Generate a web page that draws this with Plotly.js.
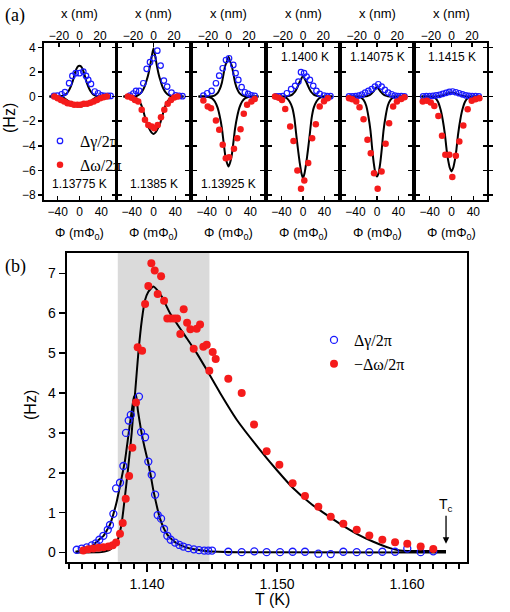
<!DOCTYPE html>
<html><head><meta charset="utf-8">
<script src="https://cdn.plot.ly/plotly-3.0.1.min.js"></script>
<style>html,body{margin:0;padding:0;background:#fff}#chart{width:510px;height:612px}</style>
</head><body><div id="chart"></div>
<script>
// ---------- Panel (a) data: six flux scans ----------
const tempLabels = ['1.13775 K','1.1385 K','1.13925 K','1.1400 K','1.14075 K','1.1415 K'];

const gPhi1 = [-46.7,-40.6,-32.6,-26.6,-19,-13,-7,0,7,12,16,21,28,34,40,46,52,57];
const gVal1 = [0.05,0.08,0.19,0.36,1.09,1.68,1.9,1.9,2.03,1.68,1.35,1.03,0.41,0.27,0.1,0.05,0.05,0.05];
const wPhi1 = [-46,-40,-34,-28,-22,-16,-10,-4,2,8,14,20,26,32,38,44,50];
const wVal1 = [0,-0.13,-0.27,-0.4,-0.54,-0.59,-0.67,-0.67,-0.67,-0.59,-0.59,-0.5,-0.4,-0.27,-0.13,-0.05,0];

const gPhi2 = [-43,-37,-32,-26,-18.7,-12.5,-6.4,0,7,13,19,25,33,40.5,47,53];
const gVal2 = [0.08,0.25,0.46,0.46,1.08,2.25,2.79,3.11,3.73,2.52,1.3,0.81,0.32,0.1,0.05,0.03];
const wPhi2 = [-47,-40,-34,-28,-21.6,-15.6,-9.5,-3.3,1.5,7.7,13.7,19.8,26,32,38,44];
const wVal2 = [0,-0.1,-0.27,-0.4,-1.08,-1.89,-2.3,-2.43,-2.57,-2.3,-1.67,-1.08,-0.59,-0.27,-0.08,0];

const gPhi3 = [-46,-39,-31,-23,-17,-10.6,-4.6,1,8.8,13,18,24,30,36,42,48];
const gVal3 = [0.08,0.27,0.46,1.08,1.7,2.3,2.97,3.11,2.57,1.9,1.35,0.76,0.35,0.22,0.1,0.05];
const wPhi3 = [-46,-38,-32,-23,-17,-10.6,-5,1,10,16,22,28,34,42,48];
const wVal3 = [-0.32,-0.81,-0.94,-1.95,-2.7,-3.92,-5.0,-4.92,-4.24,-3.38,-2.65,-1.4,-0.67,-0.4,-0.2];

const gPhi4 = [-50,-44,-38,-30,-22,-14.6,-8.5,-3.7,2,6.7,12.8,19,25,31,39,45,51];
const gVal4 = [0.02,0.02,0.03,0.27,0.6,0.87,1.22,1.98,1.9,1.62,1.35,0.87,0.46,0.22,0.08,0.03,0.03];
const wPhi4 = [-52,-45,-39,-33,-23.8,-17.7,-10.4,-3.7,2.4,9.7,17,23.8,31,39,46];
const wVal4 = [0,-0.1,-0.27,-1.0,-2.43,-3.6,-6.0,-7.49,-6.81,-5.4,-3.38,-2.24,-0.81,-0.38,-0.14];

const gPhi5 = [-52,-46,-40,-34,-28,-22,-16,-9.7,-3.7,2.4,8.6,14.6,20.7,27,33,39,45,51];
const gVal5 = [0.02,0.02,0.03,0.08,0.15,0.32,0.46,0.6,0.81,1.0,0.81,0.54,0.32,0.19,0.08,0.04,0.03,0.02];
const wPhi5 = [-52,-46,-38.5,-32.4,-25,-17.7,-11.6,-5.5,1.2,8.5,16,22.5,30,37,45,51];
const wVal5 = [-0.13,-0.22,-0.4,-0.86,-1.84,-3.51,-4.6,-6.22,-7.49,-6.08,-3.84,-2.16,-0.81,-0.4,-0.2,-0.05];

const gPhi6 = [-52,-46,-40,-34,-28,-22,-16,-10,-4,2,8,14,20,26,32,38,44,50];
const gVal6 = [0.02,0.03,0.04,0.06,0.1,0.14,0.22,0.3,0.38,0.41,0.35,0.27,0.18,0.1,0.06,0.04,0.03,0.02];
const wPhi6 = [-52.7,-45,-38,-31.5,-24,-17.4,-11.3,-4,1.5,8,14.3,21.6,29.6,37,44,51];
const wVal6 = [-0.4,-0.35,-0.49,-0.76,-1.57,-3.19,-4.73,-4.73,-6.54,-4.81,-3.65,-2.35,-1.03,-0.35,-0.22,-0.13];

// fit curves
const fitPhi = [-55,-45,-35,-30,-25,-20,-16,-12,-9,-6,-3,0,3,6,9,12,16,20,25,30,35,45,55];
const fitG1 = [0,0,0.02,0.07,0.18,0.45,0.8,1.3,1.8,2.2,2.45,2.51,2.45,2.2,1.8,1.3,0.8,0.45,0.18,0.07,0.02,0,0];
const fitW1 = [0,0,-0.04,-0.1,-0.22,-0.38,-0.52,-0.64,-0.72,-0.77,-0.8,-0.81,-0.8,-0.77,-0.72,-0.64,-0.52,-0.38,-0.22,-0.1,-0.04,0,0];
const fitG2 = [0,0,0.02,0.07,0.2,0.48,0.85,1.4,1.9,2.55,3.3,3.92,3.3,2.55,1.9,1.4,0.85,0.48,0.2,0.07,0.02,0,0];
const fitW2 = [0,0,-0.06,-0.18,-0.45,-0.95,-1.6,-2.2,-2.5,-2.75,-2.95,-3.03,-2.95,-2.75,-2.5,-2.2,-1.6,-0.95,-0.45,-0.18,-0.06,0,0];
const fitG3 = [0,0,0.01,0.03,0.1,0.28,0.6,1.15,1.85,2.5,2.85,3.24,2.85,2.5,1.85,1.15,0.6,0.28,0.1,0.03,0.01,0,0];
const fitW3 = [0,0,-0.05,-0.15,-0.4,-0.9,-1.6,-2.6,-3.7,-4.75,-5.35,-5.68,-5.35,-4.75,-3.7,-2.6,-1.6,-0.9,-0.4,-0.15,-0.05,0,0];
const fitG4 = [0,0,0,0.02,0.06,0.16,0.33,0.62,0.9,1.2,1.45,1.7,1.45,1.2,0.9,0.62,0.33,0.16,0.06,0.02,0,0,0];
const fitW4 = [0,0,-0.03,-0.14,-0.4,-0.9,-1.75,-3.3,-4.4,-5.4,-6.2,-6.62,-6.2,-5.4,-4.4,-3.3,-1.75,-0.9,-0.4,-0.14,-0.03,0,0];
const fitG5 = [0,0,0,0,0.01,0.03,0.08,0.17,0.3,0.45,0.62,0.81,0.62,0.45,0.3,0.17,0.08,0.03,0.01,0,0,0,0];
const fitW5 = [0,0,-0.02,-0.07,-0.27,-0.75,-1.6,-2.8,-4.2,-5.4,-6.2,-6.49,-6.2,-5.4,-4.2,-2.8,-1.6,-0.75,-0.27,-0.07,-0.02,0,0];
const fitG6 = [0,0,0,0.01,0.03,0.06,0.1,0.17,0.22,0.28,0.31,0.32,0.31,0.28,0.22,0.17,0.1,0.06,0.03,0.01,0,0,0];
const fitW6 = [0,0,-0.03,-0.12,-0.4,-1.05,-1.9,-3.1,-4.3,-5.2,-5.8,-6.08,-5.8,-5.2,-4.3,-3.1,-1.9,-1.05,-0.4,-0.12,-0.03,0,0];

// ---------- Panel (b) data: temperature dependence ----------
const tGamma = [1.13459,1.13498,1.13536,1.13575,1.13605,1.13633,1.13664,1.13698,1.13715,1.13741,1.13762,1.13792,1.13818,1.13838,1.13859,1.13875,1.13938,1.13954,1.13985,1.1401,1.14036,1.14062,1.14082,1.14108,1.14131,1.14156,1.14182,1.14215,1.14249,1.14279,1.14318,1.1436,1.1440,1.1444,1.1447,1.1450,1.14625,1.14728,1.14825,1.1492,1.15023,1.1512,1.15215,1.15318,1.15413,1.1551,1.15613,1.1571,1.1581,1.15908,1.16002,1.16105,1.16202];
const vGamma = [0.07,0.10,0.13,0.18,0.23,0.32,0.42,0.57,0.69,0.97,1.61,1.75,2.17,3.0,3.31,3.45,3.91,3.02,2.89,2.28,1.95,1.45,0.94,0.85,0.59,0.42,0.32,0.25,0.19,0.15,0.11,0.08,0.06,0.05,0.05,0.05,0.02,0.01,0.03,0.01,0.01,0.02,0.02,-0.03,-0.04,0.02,0.01,0.01,0.02,0.02,0.10,0.01,0.03];
const tOmega = [1.1351,1.13548,1.13587,1.13626,1.13664,1.13703,1.13736,1.13762,1.13792,1.13813,1.13836,1.13862,1.13887,1.13915,1.13928,1.13962,1.13985,1.1401,1.14033,1.14059,1.14082,1.14108,1.14131,1.14156,1.14182,1.14208,1.14231,1.14256,1.14282,1.14308,1.14333,1.14359,1.14382,1.14408,1.14433,1.14459,1.14479,1.14505,1.14528,1.14625,1.14728,1.14823,1.1492,1.15018,1.1512,1.15215,1.15318,1.15413,1.1551,1.15613,1.1571,1.1581,1.15908,1.16002,1.16105,1.16202];
const vOmega = [0.05,0.08,0.10,0.12,0.13,0.15,0.18,0.25,0.47,0.74,1.35,1.92,2.63,3.76,5.15,5.06,6.23,6.68,7.25,7.07,6.48,6.93,6.31,5.87,5.87,5.87,5.87,5.48,6.1,5.76,5.6,5.11,5.61,5.72,5.16,5.21,4.56,5.03,4.85,4.36,4.0,3.21,2.54,2.2,1.74,1.42,1.15,0.9,0.72,0.57,0.43,0.32,0.26,0.22,0.15,0.09];

const tFitG = [1.1345,1.1352,1.1358,1.1363,1.13665,1.1369,1.13715,1.1374,1.13767,1.1380,1.1383,1.13855,1.1388,1.1390,1.13915,1.1393,1.13955,1.1398,1.1401,1.1403,1.14048,1.1408,1.1410,1.1413,1.1416,1.1420,1.1423,1.1430,1.1436,1.1445,1.1455,1.1470,1.1630];
const vFitG = [0.02,0.08,0.17,0.32,0.42,0.55,0.7,0.95,1.28,1.8,2.3,2.9,3.5,3.9,3.95,3.55,3.05,2.65,2.24,1.9,1.57,1.1,0.85,0.6,0.43,0.3,0.23,0.13,0.08,0.04,0.02,0.005,0];
const tFitW = [1.1345,1.1365,1.1370,1.13715,1.13754,1.13779,1.13805,1.1383,1.13856,1.13882,1.1390,1.13908,1.13933,1.1396,1.13985,1.1401,1.14048,1.14079,1.14113,1.14177,1.14279,1.14382,1.14459,1.14562,1.1469,1.1487,1.14998,1.15125,1.15254,1.15356,1.15485,1.15613,1.15741,1.15869,1.15946,1.1600,1.1630];
const vFitW = [0.0,0.01,0.05,0.07,0.19,0.36,0.74,1.4,2.16,3.0,3.74,4.0,5.0,5.83,6.33,6.54,6.67,6.58,6.42,6.0,5.5,5.0,4.58,4.0,3.33,2.57,2.07,1.61,1.24,1.0,0.72,0.47,0.27,0.11,0.05,0.04,0.04];

const shadeT = [1.13775, 1.1448];
const tcValue = 1.163;

// ---------- helpers ----------
const W = 510, H = 612;
const px = v => v / W;
const py = v => 1 - v / H;
const ax = n => (n === 1 ? '' : String(n));
const BLUE = '#1a1aff', RED = '#f51b1b';

const gPhis = [gPhi1,gPhi2,gPhi3,gPhi4,gPhi5,gPhi6];
const gVals = [gVal1,gVal2,gVal3,gVal4,gVal5,gVal6];
const wPhis = [wPhi1,wPhi2,wPhi3,wPhi4,wPhi5,wPhi6];
const wVals = [wVal1,wVal2,wVal3,wVal4,wVal5,wVal6];
const fitGs = [fitG1,fitG2,fitG3,fitG4,fitG5,fitG6];
const fitWs = [fitW1,fitW2,fitW3,fitW4,fitW5,fitW6];

const subLeft = [44,118,193,268,342,416];
const subRight = [115,189,264,338,412,487];
const aTop = 43, aBot = 200;
const bLeft = 66.7, bRight = 466.7, bTop = 253, bBot = 561.7;

const traces = [];
const layout = {
  width: W, height: H,
  margin: {l:0, r:0, t:0, b:0},
  paper_bgcolor: '#fff', plot_bgcolor: 'rgba(0,0,0,0)',
  font: {family: 'Liberation Sans, Arial, sans-serif', size: 12, color: '#000'},
  showlegend: true,
  annotations: [], shapes: []
};

for (let k = 0; k < 6; k++) {
  const n = k + 1;
  const xa = 'x' + ax(n), ya = 'y' + ax(n);
  layout['xaxis' + ax(n)] = {
    domain: [px(subLeft[k]), px(subRight[k])], range: [-65, 65], anchor: ya,
    tickvals: [-40, 0, 40], ticks: 'inside', ticklen: 4, tickwidth: 1.5, tickcolor: '#000',
    showline: true, mirror: true, linewidth: 2, linecolor: '#000',
    showgrid: false, zeroline: false, tickfont: {size: 12}
  };
  layout['yaxis' + ax(n)] = {
    domain: [py(aBot), py(aTop)], range: [-8.4, 4.35], anchor: xa,
    tickvals: [-8,-6,-4,-2,0,2,4], ticks: k === 0 ? 'outside' : 'inside', ticklen: 4, tickwidth: 1.5, tickcolor: '#000',
    showline: true, mirror: 'allticks', linewidth: 2, linecolor: '#000',
    showticklabels: k === 0, showgrid: false, zeroline: false, tickfont: {size: 12}
  };
  layout['xaxis' + (n + 6)] = {
    overlaying: xa, side: 'top', anchor: ya, range: [-34.6, 34.6],
    tickvals: [-20, 0, 20], ticks: 'inside', ticklen: 4, tickwidth: 1.5, tickcolor: '#000',
    showline: false, showgrid: false, zeroline: false, tickfont: {size: 12}
  };
  traces.push({x: fitPhi, y: fitGs[k], xaxis: xa, yaxis: ya, mode: 'lines',
    line: {color: '#000', width: 2, shape: 'spline', smoothing: 0.6}, showlegend: false, hoverinfo: 'skip'});
  traces.push({x: fitPhi, y: fitWs[k], xaxis: xa, yaxis: ya, mode: 'lines',
    line: {color: '#000', width: 2, shape: 'spline', smoothing: 0.6}, showlegend: false, hoverinfo: 'skip'});
  traces.push({x: gPhis[k], y: gVals[k], xaxis: xa, yaxis: ya, mode: 'markers', name: 'Δγ/2π',
    marker: {symbol: 'circle-open', size: 5.5, color: BLUE, line: {width: 1.2, color: BLUE}},
    showlegend: k === 0, legend: 'legend'});
  traces.push({x: wPhis[k], y: wVals[k], xaxis: xa, yaxis: ya, mode: 'markers', name: 'Δω/2π',
    marker: {symbol: 'circle', size: 6.5, color: RED},
    showlegend: k === 0, legend: 'legend'});
  // an empty trace so the top (nm) axis has a subplot
  traces.push({x: [], y: [], xaxis: 'x' + (n + 6), yaxis: ya, mode: 'markers', showlegend: false, hoverinfo: 'skip'});

  const cx = px((subLeft[k] + subRight[k]) / 2);
  layout.annotations.push({xref: 'paper', yref: 'paper', x: cx, y: py(13), text: 'x (nm)', showarrow: false,
    font: {size: 13}, xanchor: 'center', yanchor: 'middle'});
  layout.annotations.push({xref: 'paper', yref: 'paper', x: cx, y: py(233), text: 'Φ (mΦ<sub>0</sub>)', showarrow: false,
    font: {size: 13}, xanchor: 'center', yanchor: 'middle'});
  layout.annotations.push({xref: xa, yref: ya, x: k === 3 ? 3 : 0, y: k < 3 ? -7.1 : 3.2, text: tempLabels[k], showarrow: false,
    font: {size: 12}, xanchor: 'center', yanchor: 'middle'});
}

// Panel (b)
layout.xaxis13 = {
  domain: [px(bLeft), px(bRight)], range: [1.13382, 1.16459], anchor: 'y13',
  tick0: 1.14, dtick: 0.01, tickformat: '.3f', ticks: 'outside', ticklen: 8, tickwidth: 1.5, tickcolor: '#000',
  minor: {tick0: 1.14, dtick: 0.001, ticks: 'outside', ticklen: 5, tickwidth: 1.5, tickcolor: '#000', showgrid: false},
  showline: true, mirror: true, linewidth: 2, linecolor: '#000', showgrid: false, zeroline: false,
  tickfont: {size: 14}
};
layout.yaxis13 = {
  domain: [py(bBot), py(bTop)], range: [-0.23, 7.51], anchor: 'x13',
  tick0: 0, dtick: 1, ticks: 'outside', ticklen: 6, tickwidth: 1.5, tickcolor: '#000',
  showline: true, mirror: true, linewidth: 2, linecolor: '#000', showgrid: false, zeroline: false,
  tickfont: {size: 14}
};
layout.shapes.push({type: 'rect', xref: 'x13', yref: 'y13 domain', x0: shadeT[0], x1: shadeT[1], y0: 0, y1: 1,
  fillcolor: '#dadada', line: {width: 0}, layer: 'below'});

traces.push({x: tFitG, y: vFitG, xaxis: 'x13', yaxis: 'y13', mode: 'lines',
  line: {color: '#000', width: 2, shape: 'spline', smoothing: 0.5}, showlegend: false, hoverinfo: 'skip'});
traces.push({x: tFitW, y: vFitW, xaxis: 'x13', yaxis: 'y13', mode: 'lines',
  line: {color: '#000', width: 2, shape: 'spline', smoothing: 0.5}, showlegend: false, hoverinfo: 'skip'});
traces.push({x: tGamma, y: vGamma, xaxis: 'x13', yaxis: 'y13', mode: 'markers', name: 'Δγ/2π',
  marker: {symbol: 'circle-open', size: 7, color: BLUE, line: {width: 1.3, color: BLUE}}, legend: 'legend2'});
traces.push({x: tOmega, y: vOmega, xaxis: 'x13', yaxis: 'y13', mode: 'markers', name: '−Δω/2π',
  marker: {symbol: 'circle', size: 8, color: RED}, legend: 'legend2'});

layout.legend = {x: px(40), y: py(124), xanchor: 'left', yanchor: 'top', bgcolor: 'rgba(0,0,0,0)',
  font: {family: 'Liberation Serif, Times New Roman, serif', size: 16}, tracegroupgap: 0};
layout.legend2 = {x: px(314), y: py(323), xanchor: 'left', yanchor: 'top', bgcolor: 'rgba(0,0,0,0)',
  font: {family: 'Liberation Serif, Times New Roman, serif', size: 16}, tracegroupgap: 0};

// titles & panel letters
layout.annotations.push({xref: 'paper', yref: 'paper', x: px(10), y: py(118), text: '(Hz)', textangle: -90,
  showarrow: false, font: {size: 16}, xanchor: 'center', yanchor: 'middle'});
layout.annotations.push({xref: 'paper', yref: 'paper', x: px(30), y: py(405), text: '(Hz)', textangle: -90,
  showarrow: false, font: {size: 16}, xanchor: 'center', yanchor: 'middle'});
layout.annotations.push({xref: 'paper', yref: 'paper', x: px(272), y: py(599), text: 'T (K)',
  showarrow: false, font: {size: 16}, xanchor: 'center', yanchor: 'middle'});
layout.annotations.push({xref: 'paper', yref: 'paper', x: px(15), y: py(15), text: '(a)',
  showarrow: false, font: {size: 18, family: 'Liberation Serif, Times New Roman, serif'}, xanchor: 'center', yanchor: 'middle'});
layout.annotations.push({xref: 'paper', yref: 'paper', x: px(15), y: py(266), text: '(b)',
  showarrow: false, font: {size: 18, family: 'Liberation Serif, Times New Roman, serif'}, xanchor: 'center', yanchor: 'middle'});
layout.annotations.push({xref: 'x13', yref: 'y13', x: tcValue, y: 0.22, ax: 0, ay: -28,
  text: 'T<sub>c</sub>', showarrow: true, arrowhead: 2, arrowsize: 1, arrowwidth: 1.3, arrowcolor: '#000',
  font: {size: 14}, yanchor: 'bottom'});

Plotly.newPlot('chart', traces, layout, {staticPlot: true, displayModeBar: false});
</script></body></html>
